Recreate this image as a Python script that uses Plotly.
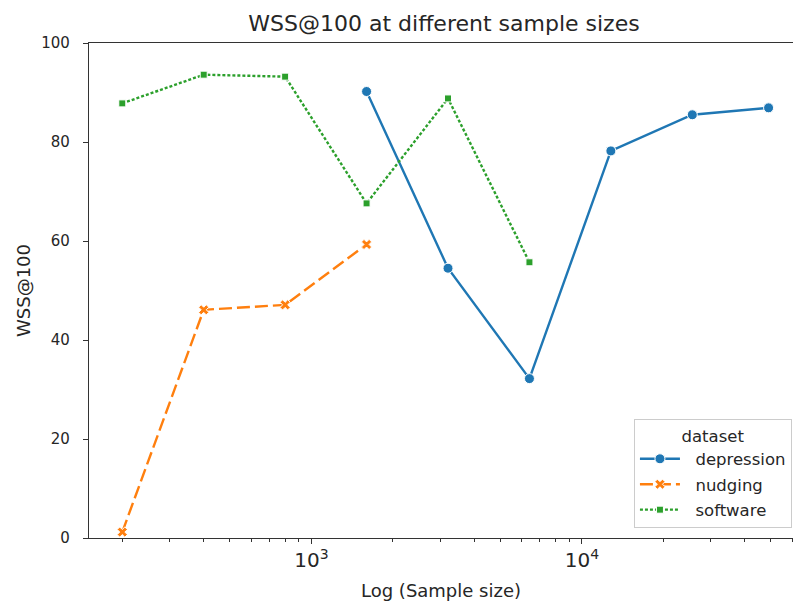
import plotly.graph_objects as go

# Data
depression_x = [1600, 3200, 6400, 12800, 25600, 49000]
depression_y = [90.2, 54.5, 32.2, 78.2, 85.5, 86.9]

nudging_x = [200, 400, 800, 1600]
nudging_y = [1.2, 46.1, 47.1, 59.3]

software_x = [200, 400, 800, 1600, 3200, 6400]
software_y = [87.8, 93.6, 93.2, 67.6, 88.8, 55.7]

series_names = ["depression", "nudging", "software"]

y_ticks = [0, 20, 40, 60, 80, 100]

FONT = "DejaVu Sans"
TXT = "#262626"
PAD = "\u00a0\u00a0"

fig = go.Figure()

fig.add_trace(go.Scatter(
    x=depression_x, y=depression_y, name=PAD + series_names[0], legendgroup="a",
    mode="lines+markers",
    line=dict(color="#1f77b4", width=2.4),
    marker=dict(symbol="circle", size=10, color="#1f77b4", line=dict(color="white", width=1)),
))
fig.add_trace(go.Scatter(
    x=nudging_x, y=nudging_y, name=PAD + series_names[1], legendgroup="b",
    mode="lines+markers",
    line=dict(color="#ff7f0e", width=2.4, dash="13px,5px"),
    marker=dict(symbol="x", size=9, color="#ff7f0e", line=dict(color="white", width=1)),
))
fig.add_trace(go.Scatter(
    x=software_x, y=software_y, name=PAD + series_names[2], legendgroup="c",
    mode="lines+markers",
    line=dict(color="#2ca02c", width=2.4, dash="3px,2px"),
    marker=dict(symbol="square", size=7, color="#2ca02c", line=dict(color="white", width=1)),
))

fig.update_layout(
    width=793, height=605,
    margin=dict(l=89, r=0, t=43, b=67, autoexpand=False),
    paper_bgcolor="white", plot_bgcolor="white",
    font=dict(family=FONT, size=16, color=TXT),
    title=dict(text="WSS@100 at different sample sizes", x=444/793, xanchor="center",
               xref="container", y=1 - 23.5/605, yref="container", yanchor="middle",
               font=dict(size=22, color=TXT)),
    showlegend=True,
    legend=dict(
        x=0.9985, xanchor="right", y=0.02, yanchor="bottom",
        bgcolor="rgba(255,255,255,0.8)", bordercolor="#cccccc", borderwidth=1,
        font=dict(size=16.5, color=TXT),
        title=dict(text="dataset", side="top center", font=dict(size=16.5, color=TXT)),
        tracegroupgap=1, itemwidth=40,
    ),
)

fig.update_xaxes(
    type="log",
    range=[2.178, 4.7805],
    automargin=False,
    showline=True, linecolor="#333333", linewidth=1.2, mirror=True,
    ticks="outside", ticklen=5, tickcolor="#333333", tickwidth=1.2,
    dtick=1, exponentformat="power",
    minor=dict(ticks="outside", ticklen=3, dtick="D1", tickcolor="#333333", tickwidth=1, showgrid=False),
    showgrid=False, zeroline=False,
    tickfont=dict(size=16, color=TXT),
    title=dict(text="Log (Sample size)", font=dict(size=18, color=TXT), standoff=13),
)
fig.update_yaxes(
    range=[0, 100],
    tickvals=y_ticks,
    automargin=False,
    showline=True, linecolor="#333333", linewidth=1.2, mirror=False,
    ticks="outside", ticklen=5, tickcolor="#333333", tickwidth=1.2,
    ticklabelstandoff=10,
    showgrid=False, zeroline=False,
    tickfont=dict(size=15, color=TXT),
    title=dict(text="WSS@100", font=dict(size=18, color=TXT), standoff=5),
)

fig.write_html("out.html", config={"displayModeBar": False},
               post_script="document.body.style.margin='0';document.body.style.overflow='hidden';")
